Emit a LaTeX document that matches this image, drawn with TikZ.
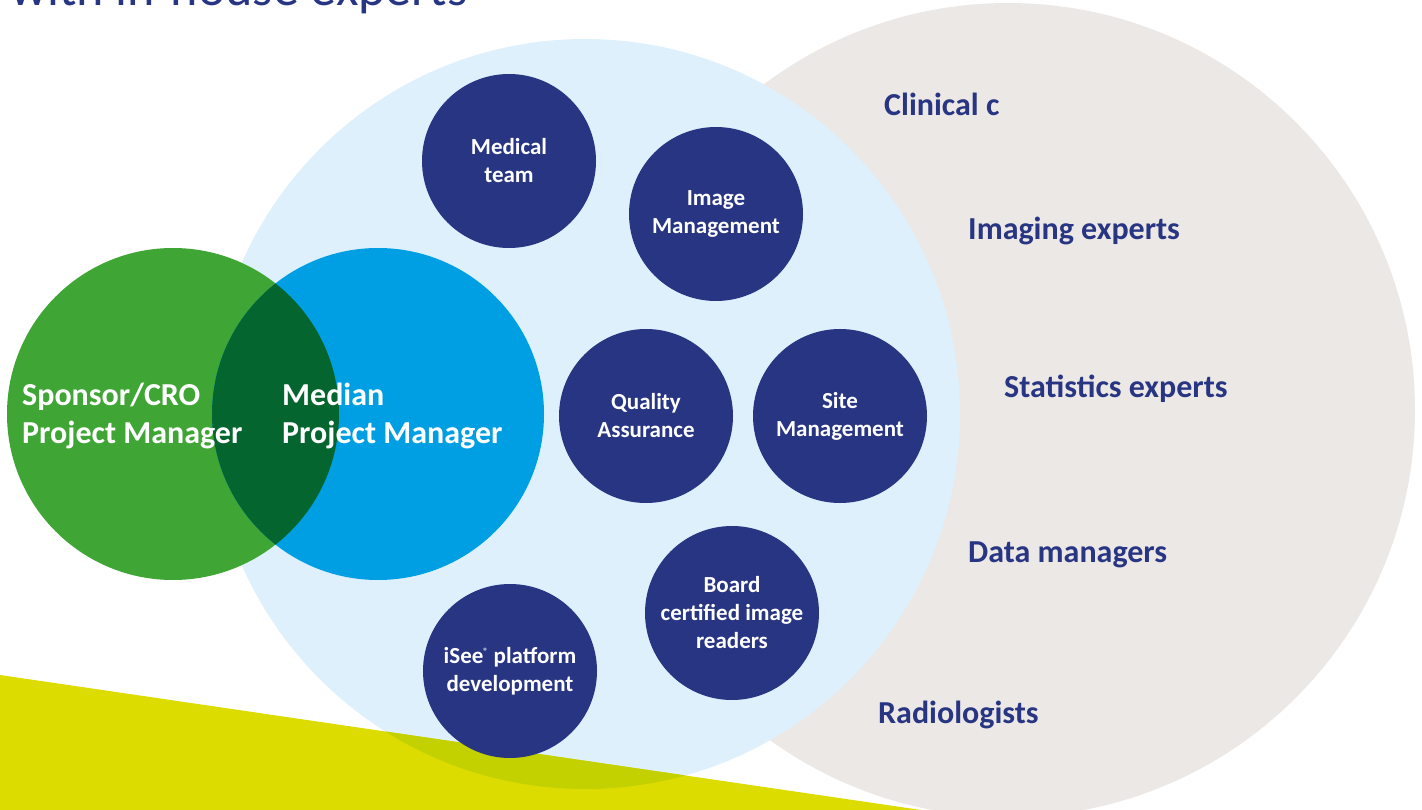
\documentclass[tikz,border=0pt]{standalone}
\usepackage{fontspec}
\setmainfont{Carlito}
\usepackage{tikz}
\usetikzlibrary{positioning}
\definecolor{navy}{HTML}{283583}
\definecolor{paleblue}{HTML}{DEF0FB}
\definecolor{stone}{HTML}{ECE8E5}
\definecolor{leaf}{HTML}{3FA535}
\definecolor{deepleaf}{HTML}{05652E}
\definecolor{sky}{HTML}{009FE3}
\definecolor{lime}{HTML}{DCDC00}
\definecolor{olive}{HTML}{C3D100}
\tikzset{
    expert/.style={circle, fill=navy, text=white, minimum size=174pt, inner sep=0pt,
        align=center, font=\bfseries\fontsize{23}{28}\selectfont},
    pmlabel/.style={anchor=west, text=white, inner sep=0pt, align=left,
        font=\bfseries\fontsize{32}{38}\selectfont},
    staff/.style={anchor=west, text=navy, inner sep=0pt,
        font=\bfseries\fontsize{32}{38}\selectfont}
}

\begin{document}
\begin{tikzpicture}[x=1pt, y=-1pt]
    \def \R {166}
    \useasboundingbox (0,0) rectangle (1422,810);
    \clip (0,0) rectangle (1422,810);
    \coordinate (stonec) at (1008, 410);
    \coordinate (palec) at (585, 414);
    \coordinate (sponsorc) at (173, 414);
    \coordinate (medianc) at (378, 414);
    % background discs
    \fill[stone] (stonec) circle (407);
    \fill[paleblue] (palec) circle (375);
    \fill[lime] (0,675) -- (921,810) -- (0,830) -- cycle;
    \begin{scope}
    \clip (palec) circle (375);
    \fill[olive] (0,675) -- (921,810) -- (0,830) -- cycle;
    \end{scope}
    % project managers
    \fill[leaf] (sponsorc) circle (\R);
    \fill[sky] (medianc) circle (\R);
    \begin{scope}
    \clip (sponsorc) circle (\R);
    \fill[deepleaf] (medianc) circle (\R);
    \end{scope}
    \node[pmlabel] (sponsor) at (22, 416) {Sponsor/CRO\\Project Manager};
    \node[pmlabel] (median) at (282, 416) {Median\\Project Manager};
    % in-house teams
    \node[expert] (medical) at (509, 161) {Medical\\team};
    \node[expert] (image) at (716, 214) {Image\\Management};
    \node[expert] (quality) at (646, 416) {Quality\\Assurance};
    \node[expert] (site) at (840, 416) {Site\\Management};
    \node[expert] (board) at (732, 613) {Board\\certified image\\readers};
    \node[expert] (isee) at (510, 671) {iSee\textsuperscript{\fontsize{9}{9}\selectfont ®} platform\\development};
    % experts
    \node[staff] (clinical) at (884, 104) {Clinical c};
    \node[staff] (imaging) at (968, 231) {Imaging experts};
    \node[staff] (stats) at (1004, 389) {Statistics experts};
    \node[staff] (data) at (968, 555) {Data managers};
    \node[staff] (radio) at (878, 715) {Radiologists};
    % title
    \node[anchor=base west, inner sep=0pt, text=navy, font=\fontsize{52}{60}\selectfont] (title) at (10, 6) {with in-house experts};
\end{tikzpicture}
\end{document}
